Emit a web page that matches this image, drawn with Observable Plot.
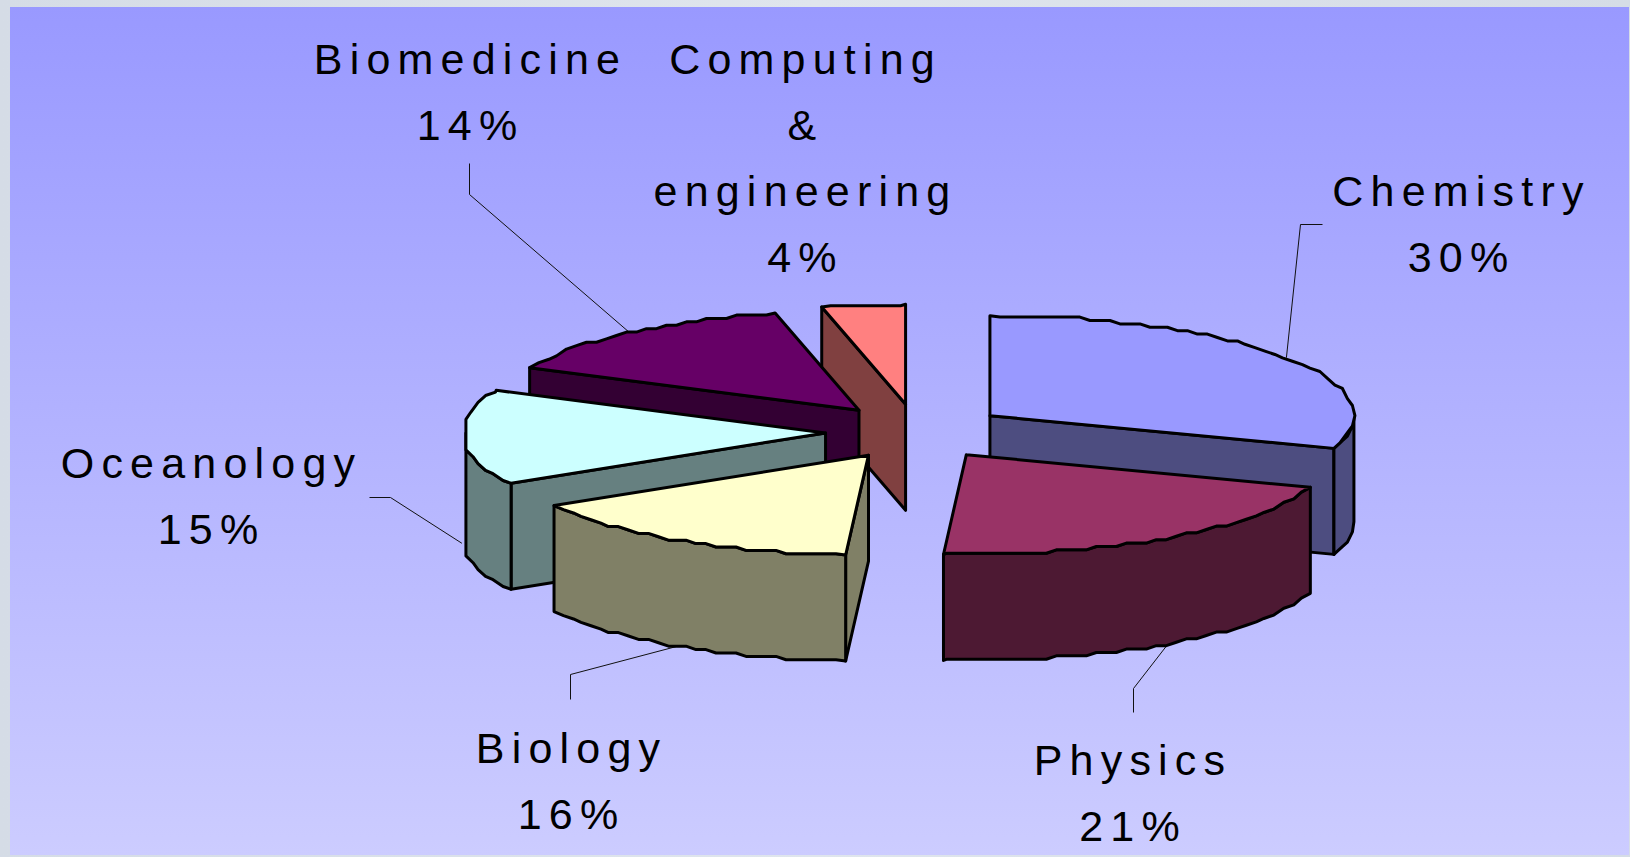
<!DOCTYPE html>
<html><head><meta charset="utf-8">
<script src="https://cdn.jsdelivr.net/npm/d3@7"></script>
<script src="https://cdn.jsdelivr.net/npm/@observablehq/plot@0.6"></script>
<style>html,body{margin:0;padding:0;background:#d9e0e9;overflow:hidden}</style>
</head><body><div id="chart"></div>
<script>
const categories = ["Chemistry","Physics","Biology","Oceanology","Biomedicine","Computing\n&\nengineering"];
const shares = [30.3,20.7,15.6,15.4,14.3,3.7];
const topColors = ["#9999ff","#993366","#ffffcc","#ccffff","#660066","#ff8080"];
const sideColors = ["#4d4d80","#4d1933","#808066","#668080","#330033","#804040"];
const paintOrder = [5,4,0,3,2,1];

// Layout of the tilted, exploded pie (model units: disc radius = 1)
const cx = 915.6, cy = 431.2, rx = 364, ry = 100;
const depth = 1.06, explodeX = 0.249, explodeY = 0.276;
const arcStepPx = 10, snapXpx = 2.5, snapYpx = 3.4, leftFlat = -0.988;
const labelX = [1461,1132.5,571,211,470,805];
const labelY = [271,840,828,543,139,271];
const elbows = [[1300,224,1322,224],[1133,688,1133,712],[570,674,570,699],[390,497,369,497],[469,194,469,163],null];

const rad = d => d*Math.PI/180;
const sum = d3.sum(shares);
let acc = 0;
const slices = shares.map((v,i)=>{
  const a0 = acc/sum*360; acc += v; const a1 = acc/sum*360; const m = (a0+a1)/2;
  return {i,a0,a1,m,ax:explodeX*Math.sin(rad(m)),ay:explodeY*Math.cos(rad(m))};
});
const snap = (v,s)=>Math.round(v/s)*s;
function rim(s,a,b){
  // the rim is traced coarsely, in the low-resolution steps of the original
  const pts=[[Math.max(leftFlat,Math.sin(rad(a))),Math.cos(rad(a))]];
  let t=a;
  while(true){
    const r=rad(t);
    const speed=Math.hypot(rx*Math.cos(r),ry*Math.sin(r))*Math.PI/180;
    t+=arcStepPx/speed;
    if(t>=b-0.4)break;
    pts.push([Math.max(leftFlat,snap(Math.sin(rad(t)),snapXpx/rx)),snap(Math.cos(rad(t)),snapYpx/ry)]);
  }
  pts.push([Math.max(leftFlat,Math.sin(rad(b))),Math.cos(rad(b))]);
  return pts.map(([x,y])=>[x+s.ax,y+s.ay]);
}
const polys=[];
function poly(id,fill,pts){pts=[...pts,pts[0]];for(const [x,y] of pts)polys.push({id,fill,x,y});}
for(const i of paintOrder){
  const s=slices[i], apex=[s.ax,s.ay];
  const edge=(t)=>[s.ax+Math.sin(rad(t)),s.ay+Math.cos(rad(t))];
  const down=p=>[p[0],p[1]-depth];
  // cut faces whose normal points toward the viewer
  if(Math.cos(rad(s.a0-90))<-1e-9){const e=edge(s.a0);poly(i+"a",sideColors[i],[apex,e,down(e),down(apex)]);}
  if(Math.cos(rad(s.a1+90))<-1e-9){const e=edge(s.a1);poly(i+"b",sideColors[i],[apex,e,down(e),down(apex)]);}
  const a=Math.max(s.a0,90),b=Math.min(s.a1,270);
  if(a<b){const r=rim(s,a,b);poly(i+"r",sideColors[i],[...r,...r.map(down).reverse()]);}
  poly(i+"t",topColors[i],[apex,...rim(s,s.a0,s.a1)]);
}
const leaders=[];
slices.forEach(s=>{
  const e=elbows[s.i]; if(!e)return;
  const t=rad(s.m);
  const front=s.m>90&&s.m<270;
  const ux=p=>(p-cx)/rx, uy=p=>(cy-p)/ry;
  const start=[s.ax+Math.sin(t),s.ay+Math.cos(t)-(front?depth:0)];
  [[start[0],start[1]],[ux(e[0]),uy(e[1])],[ux(e[2]),uy(e[3])]].forEach(([x,y])=>leaders.push({id:s.i,x,y}));
});
const labels=slices.map(s=>({text:categories[s.i]+"\n"+Math.round(shares[s.i])+"%",x:(labelX[s.i]-cx)/rx,y:(cy-labelY[s.i])/ry}));

const plot=Plot.plot({
  width:1630,height:857,margin:0,
  x:{domain:[-1,1],range:[cx-rx,cx+rx],axis:null},
  y:{domain:[-1,1],range:[cy+ry,cy-ry],axis:null},
  color:{type:"identity"},
  style:{background:"linear-gradient(#9999ff,#ccccff) no-repeat 10px 7px / 1619px 848px, linear-gradient(90deg,#d5dce6,#dfe5ed,#d5dce6)",letterSpacing:"7.2px",overflow:"hidden"},
  marks:[
    Plot.line(leaders,{x:"x",y:"y",z:"id",stroke:"#111",strokeWidth:1,strokeLinecap:"butt"}),
    Plot.line(polys,{x:"x",y:"y",z:"id",fill:"fill",stroke:"#000",strokeWidth:3,strokeLinejoin:"round"}),
    Plot.text(labels,{x:"x",y:"y",text:"text",textAnchor:"middle",lineAnchor:"bottom",lineHeight:1.53,fontSize:43,fontFamily:"Liberation Sans, Arial, sans-serif",fill:"#000"})
  ]
});
document.getElementById("chart").appendChild(plot);
</script></body></html>
